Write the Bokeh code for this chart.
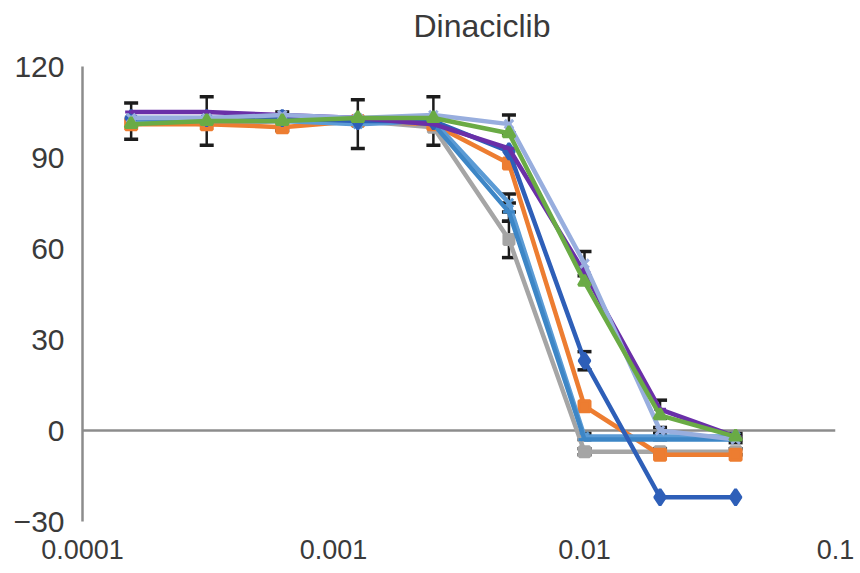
from bokeh.plotting import figure
from bokeh.models import Range1d, Span, FixedTicker, ColumnDataSource, Whisker, TeeHead
from bokeh.embed import file_html
from bokeh.resources import INLINE

# ---- data ----
concentration = [0.00015625, 0.0003125, 0.000625, 0.00125, 0.0025, 0.005, 0.01, 0.02, 0.04]

gray_vals     = [102, 101, 102, 102, 100, 63, -7, -7, -7]
gray_err      = [0, 0, 0, 0, 0, 6, 1, 1, 1]
orange_vals   = [101, 101, 100, 102, 101, 88, 8, -8, -8]
orange_err    = [0, 0, 0, 0, 0, 0, 0, 0, 0]
ltblue_vals   = [102, 102, 102, 101, 102, 75, -2, -2, -2]
ltblue_err    = [6, 8, 3, 8, 8, 3, 1, 1, 1]
blue_vals     = [103, 102, 103, 103, 101, 72, -3, -3, -3]
blue_err      = [0, 0, 0, 0, 0, 3, 0, 0, 0]
navy_vals     = [103, 103, 103, 102, 102, 92, 23, -22, -22]
navy_err      = [0, 0, 0, 0, 0, 0, 3, 0, 0]
purple_vals   = [105, 105, 104, 103, 101, 93, 52, 7, -2]
purple_err    = [0, 0, 0, 0, 0, 0, 0, 3, 0]
lavender_vals = [103, 103, 104, 103, 104, 101, 55, 0, -3]
lavender_err  = [0, 0, 0, 0, 0, 3, 4, 1, 1]
green_vals    = [101, 102, 102, 103, 103, 98, 49, 5, -2]
green_err     = [0, 0, 0, 0, 0, 0, 0, 0, 0]

x_tick_values = [0.0001, 0.001, 0.01, 0.1]
x_tick_labels = ["0.0001", "0.001", "0.01", "0.1"]
y_tick_values = [-30, 0, 30, 60, 90, 120]
y_tick_labels = ["\u221230", "0", "30", "60", "90", "120"]

title_text = "Dinaciclib"

series = [
    (gray_vals, gray_err, "#a5a5a5", "square", 10),
    (orange_vals, orange_err, "#ed7d31", "square", 11),
    (ltblue_vals, ltblue_err, "#5b9bd5", "x", 12),
    (blue_vals, blue_err, "#3d86c6", "dash", 12),
    (navy_vals, navy_err, "#2e5fb8", "diamond", 16),
    (purple_vals, purple_err, "#6a2fa8", "dash", 12),
    (lavender_vals, lavender_err, "#98aede", "x", 12),
    (green_vals, green_err, "#6aab45", "triangle", 12),
]

FONT = "Liberation Sans"
TEXT = "#3a3a3a"
AXIS = "#8c8c8c"

p = figure(width=860, height=573, x_axis_type="log",
           x_range=Range1d(0.0001, 0.1), y_range=Range1d(-30, 120),
           output_backend="svg", toolbar_location=None,
           min_border_left=82, min_border_right=25, min_border_top=66, min_border_bottom=52)
p.outline_line_color = None
p.xgrid.visible = False
p.ygrid.visible = False
p.background_fill_color = "white"
p.border_fill_color = "white"

p.title.text = title_text
p.title.align = "left"
p.title.offset = 331
p.title.standoff = 10
p.title.padding = (0, 0, 0, 18)
p.title.vertical_align = "bottom"
p.title.text_font = FONT
p.title.text_font_size = "32px"
p.title.text_font_style = "normal"
p.title.text_color = TEXT

# x axis: labels only
xa = p.xaxis[0]
xa.ticker = FixedTicker(ticks=x_tick_values)
xa.major_label_overrides = dict(zip(x_tick_values, x_tick_labels))
xa.axis_line_color = None
xa.major_tick_line_color = None
xa.minor_tick_line_color = None
xa.major_label_text_font = FONT
xa.major_label_text_font_size = "27px"
xa.major_label_text_color = TEXT
xa.major_label_standoff = 12

ya = p.yaxis[0]
ya.ticker = FixedTicker(ticks=y_tick_values)
ya.major_label_overrides = dict(zip(y_tick_values, y_tick_labels))
ya.axis_line_color = AXIS
ya.axis_line_width = 2.5
ya.major_tick_line_color = None
ya.minor_tick_line_color = None
ya.major_label_text_font = FONT
ya.major_label_text_font_size = "30px"
ya.major_label_text_color = TEXT
ya.major_label_standoff = 12

p.add_layout(Span(location=0, dimension="width", line_color=AXIS, line_width=2.5, level="underlay"))

for vals, errs, color, marker, size in series:
    src = ColumnDataSource(dict(x=concentration, y=vals))
    p.line("x", "y", source=src, line_color=color, line_width=4.5)
    p.scatter("x", "y", source=src, marker=marker, size=size, line_color=color,
              fill_color=color, line_width=3)

for vals, errs, color, marker, size in series:
    xs = [c for c, e in zip(concentration, errs) if e > 0]
    up = [v + e for v, e in zip(vals, errs) if e > 0]
    lo = [v - e for v, e in zip(vals, errs) if e > 0]
    if not xs:
        continue
    esrc = ColumnDataSource(dict(x=xs, upper=up, lower=lo))
    w = Whisker(base="x", upper="upper", lower="lower", source=esrc,
                line_color="#1c1c1c", line_width=2.5,
                upper_head=TeeHead(size=14, line_color="#1c1c1c", line_width=3.5),
                lower_head=TeeHead(size=14, line_color="#1c1c1c", line_width=3.5))
    p.add_layout(w)

open("out.html", "w").write(file_html(p, INLINE))
